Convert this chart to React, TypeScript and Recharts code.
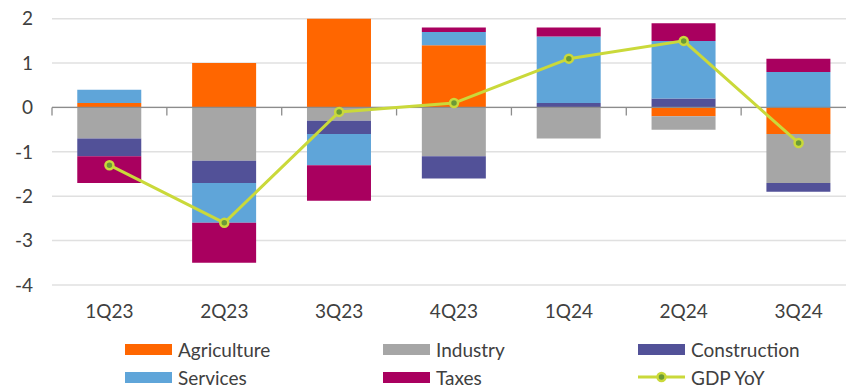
import { ComposedChart, Bar, Line, XAxis, YAxis, CartesianGrid, ReferenceLine } from 'recharts'

// quarters on the x axis
const quarters = ['1Q23', '2Q23', '3Q23', '4Q23', '1Q24', '2Q24', '3Q24']

// contributions to GDP growth, pp
const agriculture = [0.1, 1.0, 2.0, 1.4, 0, -0.2, -0.6]
const industry = [-0.7, -1.2, -0.3, -1.1, -0.7, -0.3, -1.1]
const construction = [-0.4, -0.5, -0.3, -0.5, 0.1, 0.2, -0.2]
const services = [0.3, -0.9, -0.7, 0.3, 1.5, 1.3, 0.8]
const taxes = [-0.6, -0.9, -0.8, 0.1, 0.2, 0.4, 0.3]
const gdpYoY = [-1.3, -2.6, -0.1, 0.1, 1.1, 1.5, -0.8]

const yTicks = [2, 1, 0, -1, -2, -3, -4]

const FONT = 'Lato, sans-serif'
const TEXT = '#404040'
const LINE_COLOR = '#cad93a'
const DOT_FILL = '#6a9a36'

const barSeries = [
  { key: 'agriculture', name: 'Agriculture', color: '#ff6600' },
  { key: 'industry', name: 'Industry', color: '#a6a6a6' },
  { key: 'construction', name: 'Construction', color: '#525198' },
  { key: 'services', name: 'Services', color: '#5fa5d9' },
  { key: 'taxes', name: 'Taxes', color: '#a9005f' },
]

const data = quarters.map((q, i) => ({
  quarter: q,
  agriculture: agriculture[i],
  industry: industry[i],
  construction: construction[i],
  services: services[i],
  taxes: taxes[i],
  gdp: gdpYoY[i],
}))

// zero axis with small tick marks hanging down at category boundaries
const ZeroAxis = (props: any) => {
  const { x1, y1, x2 } = props
  if (x1 === undefined) return null
  const step = (x2 - x1) / quarters.length
  const marks = []
  for (let i = 0; i <= quarters.length; i++) {
    const x = x1 + i * step
    marks.push(<line key={i} x1={x} y1={y1} x2={x} y2={y1 + 8} stroke="#8c8c8c" strokeWidth={1.3} />)
  }
  return (
    <g>
      <line x1={x1} y1={y1} x2={x2} y2={y1} stroke="#8c8c8c" strokeWidth={1.3} />
      {marks}
    </g>
  )
}

// legend order: Agriculture, Industry, Construction / Services, Taxes, GDP YoY
const legendRows = [
  [barSeries[0], barSeries[1], barSeries[2]],
  [barSeries[3], barSeries[4], null],
]
const legendCols = [125, 383, 638]

function LegendBlock() {
  return (
    <>
      {legendRows.map((row, r) =>
        row.map((item, c) => (
          <div
            key={r + '-' + c}
            style={{
              position: 'absolute',
              left: legendCols[c],
              top: 349 + r * 28 - 12,
              height: 24,
              display: 'flex',
              alignItems: 'center',
              fontFamily: FONT,
              fontSize: 19,
              color: TEXT,
              whiteSpace: 'nowrap',
            }}
          >
            {item ? (
              <div style={{ width: 47, height: 11, background: item.color, marginRight: 6 }} />
            ) : (
              <svg width={47} height={12} style={{ marginRight: 6 }}>
                <line x1={0} y1={6} x2={47} y2={6} stroke={LINE_COLOR} strokeWidth={3} />
                <circle cx={23.5} cy={6} r={4} fill={DOT_FILL} stroke={LINE_COLOR} strokeWidth={2.5} />
              </svg>
            )}
            {item ? item.name : 'GDP YoY'}
          </div>
        ))
      )}
    </>
  )
}

export default function App() {
  return (
    <div
      style={{
        position: 'absolute',
        left: 0,
        top: 0,
        width: 846,
        height: 389,
        overflow: 'hidden',
        background: '#fff',
      }}
    >
      <ComposedChart
        width={860}
        height={330}
        data={data}
        stackOffset="sign"
        barCategoryGap="22%"
        margin={{ top: 18.7, right: 4, bottom: 5, left: 0 }}
      >
        <CartesianGrid vertical={false} stroke="#e0e0e0" strokeWidth={1.5} />
        <XAxis
          dataKey="quarter"
          axisLine={false}
          tickLine={false}
          tickSize={0}
          tickMargin={20}
          height={40}
          tick={{ fill: TEXT, fontSize: 19, fontFamily: FONT }}
        />
        <YAxis
          domain={[-4, 2]}
          ticks={yTicks}
          axisLine={false}
          tickLine={false}
          tickSize={0}
          tickMargin={19}
          width={52}
          interval={0}
          tick={{ fill: TEXT, fontSize: 19, fontFamily: FONT }}
        />
        {barSeries.map((s) => (
          <Bar
            key={s.key}
            dataKey={s.key}
            name={s.name}
            stackId="gdp"
            fill={s.color}
            isAnimationActive={false}
          />
        ))}
        <ReferenceLine y={0} shape={ZeroAxis} />
        <Line
          type="linear"
          dataKey="gdp"
          name="GDP YoY"
          stroke={LINE_COLOR}
          strokeWidth={3}
          dot={{ r: 4, fill: DOT_FILL, stroke: LINE_COLOR, strokeWidth: 2.5 }}
          isAnimationActive={false}
        />
      </ComposedChart>
      <LegendBlock />
    </div>
  )
}
